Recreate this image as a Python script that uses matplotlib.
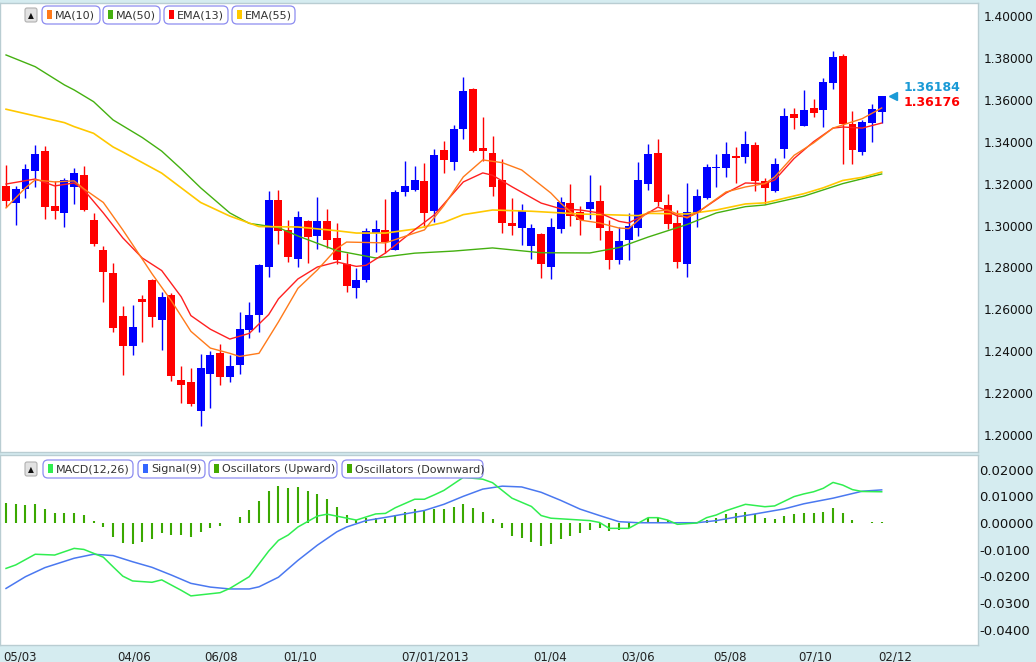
import numpy as np
import matplotlib
matplotlib.use("Agg")
import matplotlib.pyplot as plt
from matplotlib.patches import FancyBboxPatch, Rectangle
from matplotlib.transforms import IdentityTransform

# weekly candles
opens = [1.3189, 1.3109, 1.3175, 1.3262, 1.3356, 1.3094, 1.3062, 1.3186, 1.3242, 1.3024,
         1.2884, 1.2773, 1.2568, 1.2427, 1.2650, 1.2741, 1.2547, 1.2669, 1.2264, 1.2251,
         1.2117, 1.2292, 1.2392, 1.2279, 1.2332, 1.2502, 1.2574, 1.2800, 1.3122, 1.2979,
         1.2842, 1.3022, 1.2952, 1.3022, 1.2940, 1.2816, 1.2704, 1.2741, 1.2966, 1.2979,
         1.2884, 1.3162, 1.3170, 1.3213, 1.3071, 1.3361, 1.3305, 1.3461, 1.3652, 1.3369,
         1.3345, 1.3218, 1.3014, 1.2990, 1.2904, 1.2960, 1.2804, 1.2985, 1.3106, 1.3066,
         1.3079, 1.3118, 1.2974, 1.2836, 1.2931, 1.2987, 1.3197, 1.3348, 1.3098, 1.3014,
         1.2816, 1.3062, 1.3133, 1.3275, 1.3276, 1.3334, 1.3329, 1.3385, 1.3213, 1.3167,
         1.3364, 1.3533, 1.3477, 1.3561, 1.3552, 1.3679, 1.3811, 1.3485, 1.3352, 1.3491,
         1.3544]
highs = [1.3289, 1.3189, 1.3293, 1.3385, 1.3380, 1.3213, 1.3227, 1.3273, 1.3285, 1.3062,
         1.2903, 1.2820, 1.2618, 1.2621, 1.2666, 1.2745, 1.2685, 1.2679, 1.2330, 1.2319,
         1.2386, 1.2403, 1.2434, 1.2383, 1.2587, 1.2637, 1.2817, 1.3167, 1.3170, 1.3027,
         1.3070, 1.3025, 1.3135, 1.3078, 1.3014, 1.2868, 1.2796, 1.2987, 1.3027, 1.3127,
         1.3170, 1.3308, 1.3285, 1.3297, 1.3366, 1.3404, 1.3480, 1.3710, 1.3655, 1.3517,
         1.3427, 1.3316, 1.3130, 1.3103, 1.3006, 1.2965, 1.3035, 1.3138, 1.3199, 1.3095,
         1.3242, 1.3194, 1.3027, 1.2995, 1.3059, 1.3305, 1.3389, 1.3413, 1.3150, 1.3074,
         1.3202, 1.3173, 1.3293, 1.3340, 1.3398, 1.3377, 1.3451, 1.3400, 1.3226, 1.3321,
         1.3563, 1.3560, 1.3647, 1.3603, 1.3703, 1.3833, 1.3819, 1.3548, 1.3504, 1.3579,
         1.3618]
lows = [1.3088, 1.3003, 1.3132, 1.3186, 1.3030, 1.3030, 1.2992, 1.3102, 1.3070, 1.2903,
        1.2637, 1.2491, 1.2287, 1.2383, 1.2442, 1.2515, 1.2407, 1.2259, 1.2155, 1.2140,
        1.2041, 1.2128, 1.2240, 1.2253, 1.2292, 1.2465, 1.2494, 1.2754, 1.2912, 1.2825,
        1.2804, 1.2820, 1.2887, 1.2892, 1.2817, 1.2685, 1.2656, 1.2730, 1.2873, 1.2871,
        1.2881, 1.3141, 1.3167, 1.2995, 1.3016, 1.3253, 1.3265, 1.3412, 1.3353, 1.3310,
        1.3141, 1.2963, 1.2955, 1.2908, 1.2839, 1.2749, 1.2744, 1.2963, 1.3000, 1.2955,
        1.3030, 1.2931, 1.2793, 1.2817, 1.2836, 1.2952, 1.3170, 1.3095, 1.2984, 1.2799,
        1.2754, 1.2992, 1.3126, 1.3183, 1.3231, 1.3202, 1.3297, 1.3167, 1.3103, 1.3162,
        1.3321, 1.3460, 1.3475, 1.3520, 1.3469, 1.3650, 1.3293, 1.3293, 1.3336, 1.3397,
        1.3491]
closes = [1.3118, 1.3175, 1.3270, 1.3343, 1.3090, 1.3071, 1.3218, 1.3253, 1.3075, 1.2912,
          1.2776, 1.2513, 1.2427, 1.2515, 1.2634, 1.2561, 1.2660, 1.2284, 1.2240, 1.2148,
          1.2318, 1.2383, 1.2279, 1.2330, 1.2507, 1.2574, 1.2812, 1.3122, 1.2974, 1.2852,
          1.3040, 1.2947, 1.3022, 1.2931, 1.2833, 1.2709, 1.2741, 1.2974, 1.2984, 1.2923,
          1.3160, 1.3189, 1.3218, 1.3062, 1.3337, 1.3313, 1.3461, 1.3642, 1.3357, 1.3357,
          1.3186, 1.3014, 1.3000, 1.3071, 1.2987, 1.2814, 1.2992, 1.3114, 1.3047, 1.3024,
          1.3114, 1.2987, 1.2833, 1.2927, 1.3000, 1.3218, 1.3342, 1.3114, 1.3006, 1.2828,
          1.3064, 1.3141, 1.3278, 1.3281, 1.3342, 1.3323, 1.3389, 1.3214, 1.3178, 1.3294,
          1.3523, 1.3515, 1.3552, 1.3539, 1.3687, 1.3806, 1.3483, 1.3361, 1.3496, 1.3555,
          1.3618]

# moving averages sampled at candle indexes
ma10_idx = [0, 2, 3, 5, 7, 8, 10, 12, 14, 15, 17, 19, 21, 23, 24, 26, 28, 30, 32, 34, 35, 39,
            42, 43, 45, 47, 49, 51, 53, 56, 57, 59, 61, 63, 64, 65, 66, 68, 70, 71, 74, 76, 78,
            79, 81, 83, 85, 88, 90]
ma10 = [1.3084, 1.3180, 1.3218, 1.3208, 1.3213, 1.3175, 1.3110, 1.2979, 1.2840, 1.2770,
        1.2640, 1.2495, 1.2415, 1.2390, 1.2375, 1.2390, 1.2540, 1.2700, 1.2788, 1.2890,
        1.2921, 1.2917, 1.2964, 1.2979, 1.3095, 1.3232, 1.3313, 1.3300, 1.3265, 1.3155,
        1.3107, 1.3026, 1.3012, 1.2988, 1.2985, 1.3026, 1.3064, 1.3074, 1.3036, 1.3060,
        1.3160, 1.3184, 1.3200, 1.3232, 1.3335, 1.3394, 1.3465, 1.3510, 1.3561]

ema13_idx = [0, 3, 5, 7, 8, 10, 12, 14, 16, 18, 19, 21, 23, 25, 27, 28, 30, 32, 34, 36, 37,
             39, 42, 44, 47, 49, 50, 52, 55, 57, 59, 61, 63, 64, 66, 67, 68, 69, 70, 71, 74,
             76, 78, 79, 81, 83, 85, 86, 88, 90]
ema13 = [1.3198, 1.3222, 1.3189, 1.3203, 1.3170, 1.3060, 1.2941, 1.2845, 1.2785, 1.2660,
         1.2570, 1.2505, 1.2458, 1.2485, 1.2575, 1.2650, 1.2745, 1.2802, 1.2826, 1.2805,
         1.2810, 1.2869, 1.2980, 1.3050, 1.3208, 1.3251, 1.3240, 1.3185, 1.3107, 1.3080,
         1.3074, 1.3060, 1.3020, 1.3012, 1.3060, 1.3088, 1.3069, 1.3045, 1.3041, 1.3060,
         1.3155, 1.3203, 1.3200, 1.3217, 1.3320, 1.3400, 1.3465, 1.3470, 1.3465, 1.3489]

ma50_idx = [0, 3, 6, 7, 9, 11, 14, 16, 18, 20, 23, 25, 28, 30, 34, 38, 42, 46, 50, 55, 60,
            63, 66, 70, 73, 76, 78, 82, 86, 90]
ma50 = [1.3814, 1.3758, 1.3671, 1.3647, 1.3591, 1.3504, 1.3420, 1.3355, 1.3270, 1.3180,
        1.3060, 1.3010, 1.2990, 1.2950, 1.2880, 1.2845, 1.2868, 1.2878, 1.2893, 1.2870,
        1.2869, 1.2895, 1.2945, 1.3005, 1.3060, 1.3090, 1.3098, 1.3140, 1.3200, 1.3246]

ema55_idx = [0, 3, 6, 7, 9, 11, 12, 16, 20, 23, 26, 30, 34, 36, 39, 42, 45, 47, 50, 54, 59,
             63, 65, 66, 70, 73, 76, 78, 82, 84, 86, 88, 90]
ema55 = [1.3555, 1.3523, 1.3491, 1.3472, 1.3440, 1.3375, 1.3351, 1.3250, 1.3110, 1.3045,
         1.2995, 1.2993, 1.2975, 1.2964, 1.2964, 1.2983, 1.3015, 1.3052, 1.3074, 1.3068,
         1.3055, 1.3050, 1.3047, 1.3058, 1.3055, 1.3074, 1.3103, 1.3108, 1.3152, 1.3180,
         1.3215, 1.3230, 1.3255]

# MACD panel
osc = [0.0074, 0.0072, 0.0068, 0.0071, 0.0051, 0.0036, 0.0036, 0.0036, 0.0030, 0.0009,
       -0.0015, -0.0051, -0.0074, -0.0080, -0.0070, -0.0061, -0.0039, -0.0045, -0.0045, -0.0051,
       -0.0035, -0.0020, -0.0011, 0.0, 0.0024, 0.0049, 0.0082, 0.0121, 0.0139, 0.0130,
       0.0136, 0.0121, 0.0109, 0.0089, 0.0059, 0.0030, 0.0011, 0.0018, 0.0018, 0.0014,
       0.0030, 0.0040, 0.0051, 0.0046, 0.0051, 0.0051, 0.0059, 0.0071, 0.0055, 0.0040,
       0.0014, -0.0020, -0.0048, -0.0057, -0.0070, -0.0086, -0.0079, -0.0060, -0.0049, -0.0039,
       -0.0026, -0.0020, -0.0030, -0.0026, -0.0020, 0.0, 0.0020, 0.0020, 0.0011, 0.0,
       0.0, 0.0, 0.0011, 0.0020, 0.0034, 0.0036, 0.0042, 0.0033, 0.0018, 0.0014,
       0.0026, 0.0033, 0.0036, 0.0036, 0.0042, 0.0055, 0.0036, 0.0011, 0.0, 0.0004,
       0.0004]

macd_idx = [0, 1, 3, 5, 7, 8, 10, 11, 12, 13, 15, 16, 18, 19, 22, 23, 25, 27, 28, 29, 30,
            32, 33, 36, 38, 39, 40, 42, 43, 44, 45, 47, 49, 50, 52, 54, 55, 56, 60, 61, 62,
            64, 66, 67, 68, 69, 71, 72, 73, 74, 76, 78, 79, 81, 82, 83, 84, 85, 86, 87, 88, 90]
macd = [-0.0170, -0.0157, -0.0117, -0.0120, -0.0095, -0.0099, -0.0128, -0.0164, -0.0199,
        -0.0217, -0.0222, -0.0213, -0.0252, -0.0273, -0.0261, -0.0245, -0.0201, -0.0105,
        -0.0065, -0.0045, -0.0015, 0.0026, 0.0033, 0.0011, 0.0034, 0.0036, 0.0057, 0.0089,
        0.0089, 0.0105, 0.0122, 0.0171, 0.0164, 0.0151, 0.0093, 0.0062, 0.0028, 0.0018,
        0.0009, 0.0002, -0.0020, -0.0020, 0.0020, 0.0020, 0.0011, -0.0005, 0.0, 0.0020,
        0.0030, 0.0046, 0.0070, 0.0061, 0.0064, 0.0099, 0.0109, 0.0117, 0.0130, 0.0152,
        0.0142, 0.0125, 0.0118, 0.0117]

signal_idx = [0, 2, 4, 7, 9, 11, 13, 15, 17, 19, 21, 23, 25, 26, 28, 30, 32, 34, 35, 37, 39,
              41, 43, 45, 47, 49, 51, 53, 55, 57, 59, 61, 63, 65, 71, 73, 75, 77, 80, 82, 85,
              88, 90]
signal = [-0.0245, -0.0201, -0.0167, -0.0132, -0.0117, -0.0122, -0.0145, -0.0166, -0.0195,
          -0.0226, -0.0240, -0.0247, -0.0247, -0.0239, -0.0203, -0.0140, -0.0083, -0.0033,
          -0.0015, 0.0009, 0.0021, 0.0034, 0.0047, 0.0070, 0.0100, 0.0127, 0.0138, 0.0135,
          0.0115, 0.0085, 0.0052, 0.0028, 0.0005, 0.0001, 0.0001, 0.0009, 0.0022, 0.0034,
          0.0053, 0.0072, 0.0093, 0.0119, 0.0124]

date_labels = ["05/03", "04/06", "06/08", "01/10", "07/01/2013", "01/04", "03/06", "05/08",
               "07/10", "02/12"]
date_pos = [1.4, 13.2, 22.1, 30.2, 44.1, 55.9, 65.0, 74.4, 83.2, 91.4]

bid, ask = 1.36184, 1.36176

BG = "#d5ecf0"
W, H = 1036, 662

fig = plt.figure(figsize=(W / 100, H / 100), dpi=100, facecolor=BG)
ax = fig.add_axes([0, 210 / H, 978 / W, 449 / H])
ax2 = fig.add_axes([0, 17 / H, 978 / W, 190 / H])

o = np.array(opens)
c = np.array(closes)
hi = np.array(highs)
lo = np.array(lows)
x = np.arange(len(o))
up = c >= o
cols = np.where(up, "#0000ff", "#ff0000")

ax.vlines(x, lo, hi, colors=cols, lw=1.0, zorder=2)
body = np.maximum(np.abs(c - o), 0.0006)
ax.bar(x, body, bottom=np.minimum(o, c), width=0.82, color=cols, zorder=3)

ax.plot(ma50_idx, ma50, color="#44b010", lw=1.0, zorder=4)
ax.plot(ema55_idx, ema55, color="#ffc800", lw=1.2, zorder=4)
ax.plot(ema13_idx, ema13, color="#ff2020", lw=1.0, zorder=5)
ax.plot(ma10_idx, ma10, color="#ff7a1a", lw=1.0, zorder=5)

# last price marker
ax.plot([91.2], [bid], marker="<", color="#1a9ad6", ms=6, clip_on=False, zorder=6)
ax.annotate(f"{bid:.5f}", (91.2, bid), xytext=(10, 8), textcoords="offset pixels",
            color="#1a9ad6", fontsize=9, fontweight="bold", va="center")
ax.annotate(f"{ask:.5f}", (91.2, bid), xytext=(10, -7), textcoords="offset pixels",
            color="#ff0000", fontsize=9, fontweight="bold", va="center")

ax.set_xlim(-0.62, 99.9)
ax.set_ylim(1.1919, 1.4062)
yt = np.arange(1.20, 1.4001, 0.02)
ax.set_yticks(yt)
ax.set_yticklabels([f"{v:.5f}" for v in yt])
ax.yaxis.tick_right()
ax.tick_params(axis="y", length=0, pad=4, labelsize=8.7, labelcolor="#111111")
ax.set_xticks([])

# MACD panel
ax2.vlines(x, 0, osc, colors="#3aa800", lw=1.5, zorder=2)
ax2.plot(signal_idx, signal, color="#4a78f0", lw=1.1, zorder=3)
ax2.plot(macd_idx, macd, color="#30ee50", lw=1.1, zorder=4)
ax2.set_xlim(-0.62, 99.9)
ax2.set_ylim(-0.04569, 0.02547)
mt = [0.02, 0.01, 0.0, -0.01, -0.02, -0.03, -0.04]
ax2.set_yticks(mt)
ax2.set_yticklabels(["0.02000", "0.01000", "0.00000", "-0.0100", "-0.0200", "-0.0300", "-0.0400"])
ax2.yaxis.tick_right()
ax2.tick_params(axis="y", length=0, pad=1, labelsize=9.5, labelcolor="#111111")
ax2.set_xticks(date_pos)
ax2.set_xticklabels(date_labels)
ax2.tick_params(axis="x", length=0, pad=4, labelsize=8.5, labelcolor="#222222")

for a in (ax, ax2):
    a.set_facecolor("white")
    for s in a.spines.values():
        s.set_color("#b9cdd2")
        s.set_linewidth(1.0)

ident = IdentityTransform()


def px(xp, yp):
    return xp, H - yp


def button(x0, y0):
    fig.add_artist(FancyBboxPatch(px(x0, y0 + 14), 12, 14, boxstyle="round,pad=0,rounding_size=2",
                                  transform=ident, fc="#e2e2e2", ec="#b0b0b0", lw=0.8))
    fig.text(*px(x0 + 6, y0 + 7.5), "\u25b2", transform=ident, fontsize=5.5,
             ha="center", va="center", color="#111111")


def legend_box(x0, x1, y0, y1, color, label):
    fig.add_artist(FancyBboxPatch(px(x0, y1), x1 - x0, y1 - y0, boxstyle="round,pad=0,rounding_size=5",
                                  transform=ident, fc="white", ec="#8c8cf0", lw=0.9))
    fig.add_artist(Rectangle(px(x0 + 5, y1 - 5), 5, y1 - y0 - 9, transform=ident,
                             fc=color, ec="none"))
    fig.text(*px(x0 + 13, (y0 + y1) / 2 + 0.5), label, transform=ident, fontsize=8,
             va="center", color="#333333")


button(25, 8)
legend_box(42, 100, 6, 24, "#ff7a1a", "MA(10)")
legend_box(103, 160, 6, 24, "#44b010", "MA(50)")
legend_box(164, 228, 6, 24, "#ff0000", "EMA(13)")
legend_box(232, 295, 6, 24, "#ffc800", "EMA(55)")

button(25, 462)
legend_box(43, 133, 460, 478, "#30ee50", "MACD(12,26)")
legend_box(138, 205, 460, 478, "#3366ff", "Signal(9)")
legend_box(209, 337, 460, 478, "#44aa00", "Oscillators (Upward)")
legend_box(342, 483, 460, 478, "#44aa00", "Oscillators (Downward)")

fig.savefig("out.png", dpi=100, facecolor=BG)
